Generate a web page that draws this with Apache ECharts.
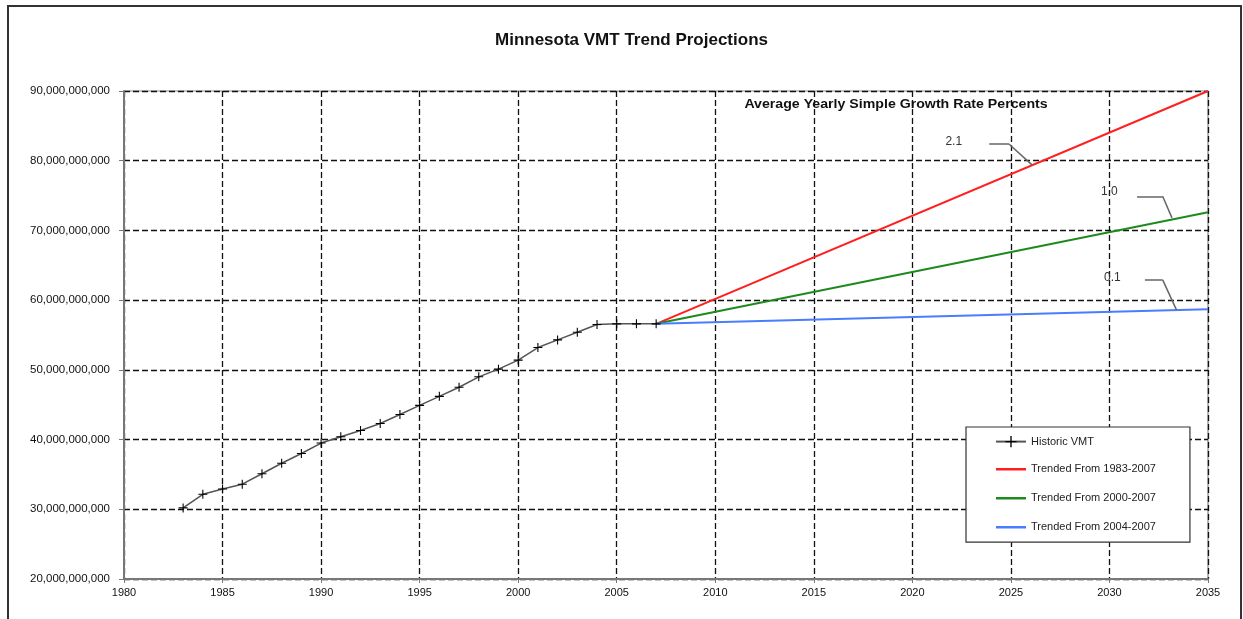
<!DOCTYPE html>
<html>
<head>
<meta charset="utf-8">
<script src="https://cdn.jsdelivr.net/npm/echarts@6/dist/echarts.min.js"></script>
<style>
html,body{margin:0;padding:0;background:#fff;}
#chart{width:1243px;height:619px;}
</style>
</head>
<body>
<div id="chart"></div>
<script>
// ---- data ----
const years = [1983,1984,1985,1986,1987,1988,1989,1990,1991,1992,1993,1994,1995,1996,1997,1998,1999,2000,2001,2002,2003,2004,2005,2006,2007];
const historicVMT = [30.2,32.15,32.9,33.6,35.1,36.6,38.0,39.5,40.4,41.3,42.3,43.6,44.9,46.2,47.5,49.0,50.1,51.4,53.2,54.3,55.4,56.5,56.6,56.6,56.6]; // billions
const projYears = [2007, 2035];
const trend1983 = [56.6, 90.0];
const trend2000 = [56.6, 72.6];
const trend2004 = [56.6, 58.7];
const rateLabels = ['2.1', '1.0', '0.1'];
const rateLabelPos = [[2022.1, 82.7], [2030.0, 75.6], [2030.15, 63.2]];
const leaderLines = [
  [[2023.9, 82.4], [2024.9, 82.4], [2026.07, 79.4]],
  [[2031.4, 74.9], [2032.7, 74.9], [2033.17, 71.8]],
  [[2031.8, 62.9], [2032.7, 62.9], [2033.4, 58.6]]
];
const headingText = 'Average Yearly Simple Growth Rate Percents';
const headingPos = [2019.17, 88.0];
const B = 1e9;

const FONT = 'Liberation Sans, Arial, sans-serif';
const plus = 'path://M4.4,0h1.2v4.4h4.4v1.2h-4.4v4.4h-1.2v-4.4h-4.4v-1.2h4.4z';
const lineIcon = 'path://M0,0L0.01,0ZM30,14L29.99,14ZM0,5.8H30V8.2H0Z';

const toPairs = (xs, ys) => xs.map((x, i) => [x, ys[i] * B]);

const leaderData = [];
leaderLines.forEach(pts => {
  for (let i = 0; i < pts.length - 1; i++) {
    leaderData.push([{coord: [pts[i][0], pts[i][1] * B]}, {coord: [pts[i+1][0], pts[i+1][1] * B]}]);
  }
});

const chart = echarts.init(document.getElementById('chart'));
const option = {
  animation: false,
  backgroundColor: '#fff',
  textStyle: {fontFamily: FONT},
  title: {
    text: 'Minnesota VMT Trend Projections',
    left: 490, top: 27,
    textStyle: {fontFamily: FONT, fontSize: 17, fontWeight: 'bold', color: '#111'}
  },
  legend: {
    orient: 'vertical',
    left: 966, top: 427,
    padding: [9, 34, 8, 29],
    itemWidth: 30, itemHeight: 14, itemGap: 15,
    backgroundColor: '#fff',
    borderColor: '#333', borderWidth: 1.2,
    textStyle: {fontFamily: FONT, fontSize: 11, color: '#222'},
    data: [
      'Historic VMT',
      {name: 'Trended From 1983-2007', icon: lineIcon},
      {name: 'Trended From 2000-2007', icon: lineIcon},
      {name: 'Trended From 2004-2007', icon: lineIcon}
    ]
  },
  grid: {
    left: 124, right: 35, top: 91, bottom: 40,
    show: true, borderColor: '#888', borderWidth: 1.2
  },
  xAxis: {
    type: 'value', min: 1980, max: 2035, interval: 5,
    axisLine: {show: true, onZero: false, lineStyle: {color: '#777', width: 2}},
    axisTick: {show: true, length: 4, lineStyle: {color: '#777'}},
    axisLabel: {fontFamily: FONT, fontSize: 11, color: '#111', margin: 8,
      formatter: v => String(v)},
    splitLine: {show: true, lineStyle: {color: '#111', width: 1.3, type: [6, 3]}}
  },
  yAxis: {
    type: 'value', min: 20 * B, max: 90 * B, interval: 10 * B,
    axisLine: {show: true, onZero: false, lineStyle: {color: '#777', width: 2}},
    axisTick: {show: true, length: 5, lineStyle: {color: '#777'}},
    axisLabel: {fontFamily: FONT, fontSize: 11.5, color: '#111', margin: 14,
      formatter: v => Math.round(v).toLocaleString('en-US')},
    splitLine: {show: true, lineStyle: {color: '#111', width: 1.3, type: [6, 3]}}
  },
  series: [
    {
      name: 'Historic VMT', type: 'line',
      data: toPairs(years, historicVMT),
      symbol: plus, symbolSize: 9,
      itemStyle: {color: '#000'},
      lineStyle: {color: '#555', width: 1.5},
      z: 5
    },
    {
      name: 'Trended From 1983-2007', type: 'line',
      data: toPairs(projYears, trend1983),
      symbol: 'none', lineStyle: {color: '#ff1f1f', width: 2}, itemStyle: {color: '#ff1f1f'},
      markLine: {
        silent: true, symbol: 'none', animation: false,
        label: {show: false},
        lineStyle: {color: '#666', width: 1.5, type: 'solid'},
        data: leaderData
      }
    },
    {
      name: 'Trended From 2000-2007', type: 'line',
      data: toPairs(projYears, trend2000),
      symbol: 'none', lineStyle: {color: '#1e8a1e', width: 2}, itemStyle: {color: '#1e8a1e'}
    },
    {
      name: 'Trended From 2004-2007', type: 'line',
      data: toPairs(projYears, trend2004),
      symbol: 'none', lineStyle: {color: '#4a7cff', width: 2}, itemStyle: {color: '#4a7cff'}
    }
  ]
};
chart.setOption(option);

const px = (p) => chart.convertToPixel({gridIndex: 0}, [p[0], p[1] * B]);
const graphics = [
  {type: 'rect', shape: {x: 8, y: 6, width: 1233, height: 640},
   style: {fill: 'none', stroke: '#333', lineWidth: 2}, silent: true, z: 100}
];
const hp = px(headingPos);
graphics.push({type: 'text', x: hp[0], y: hp[1], scaleX: 1.18, z: 100,
  style: {text: headingText, font: 'bold 12px ' + FONT, fill: '#111', textAlign: 'center', textVerticalAlign: 'middle'}});
rateLabels.forEach((t, i) => {
  const p = px(rateLabelPos[i]);
  graphics.push({type: 'text', x: p[0], y: p[1], z: 100,
    style: {text: t, font: '12px ' + FONT, fill: '#333', textAlign: 'center', textVerticalAlign: 'middle'}});
});
chart.setOption({graphic: graphics});
</script>
</body>
</html>
